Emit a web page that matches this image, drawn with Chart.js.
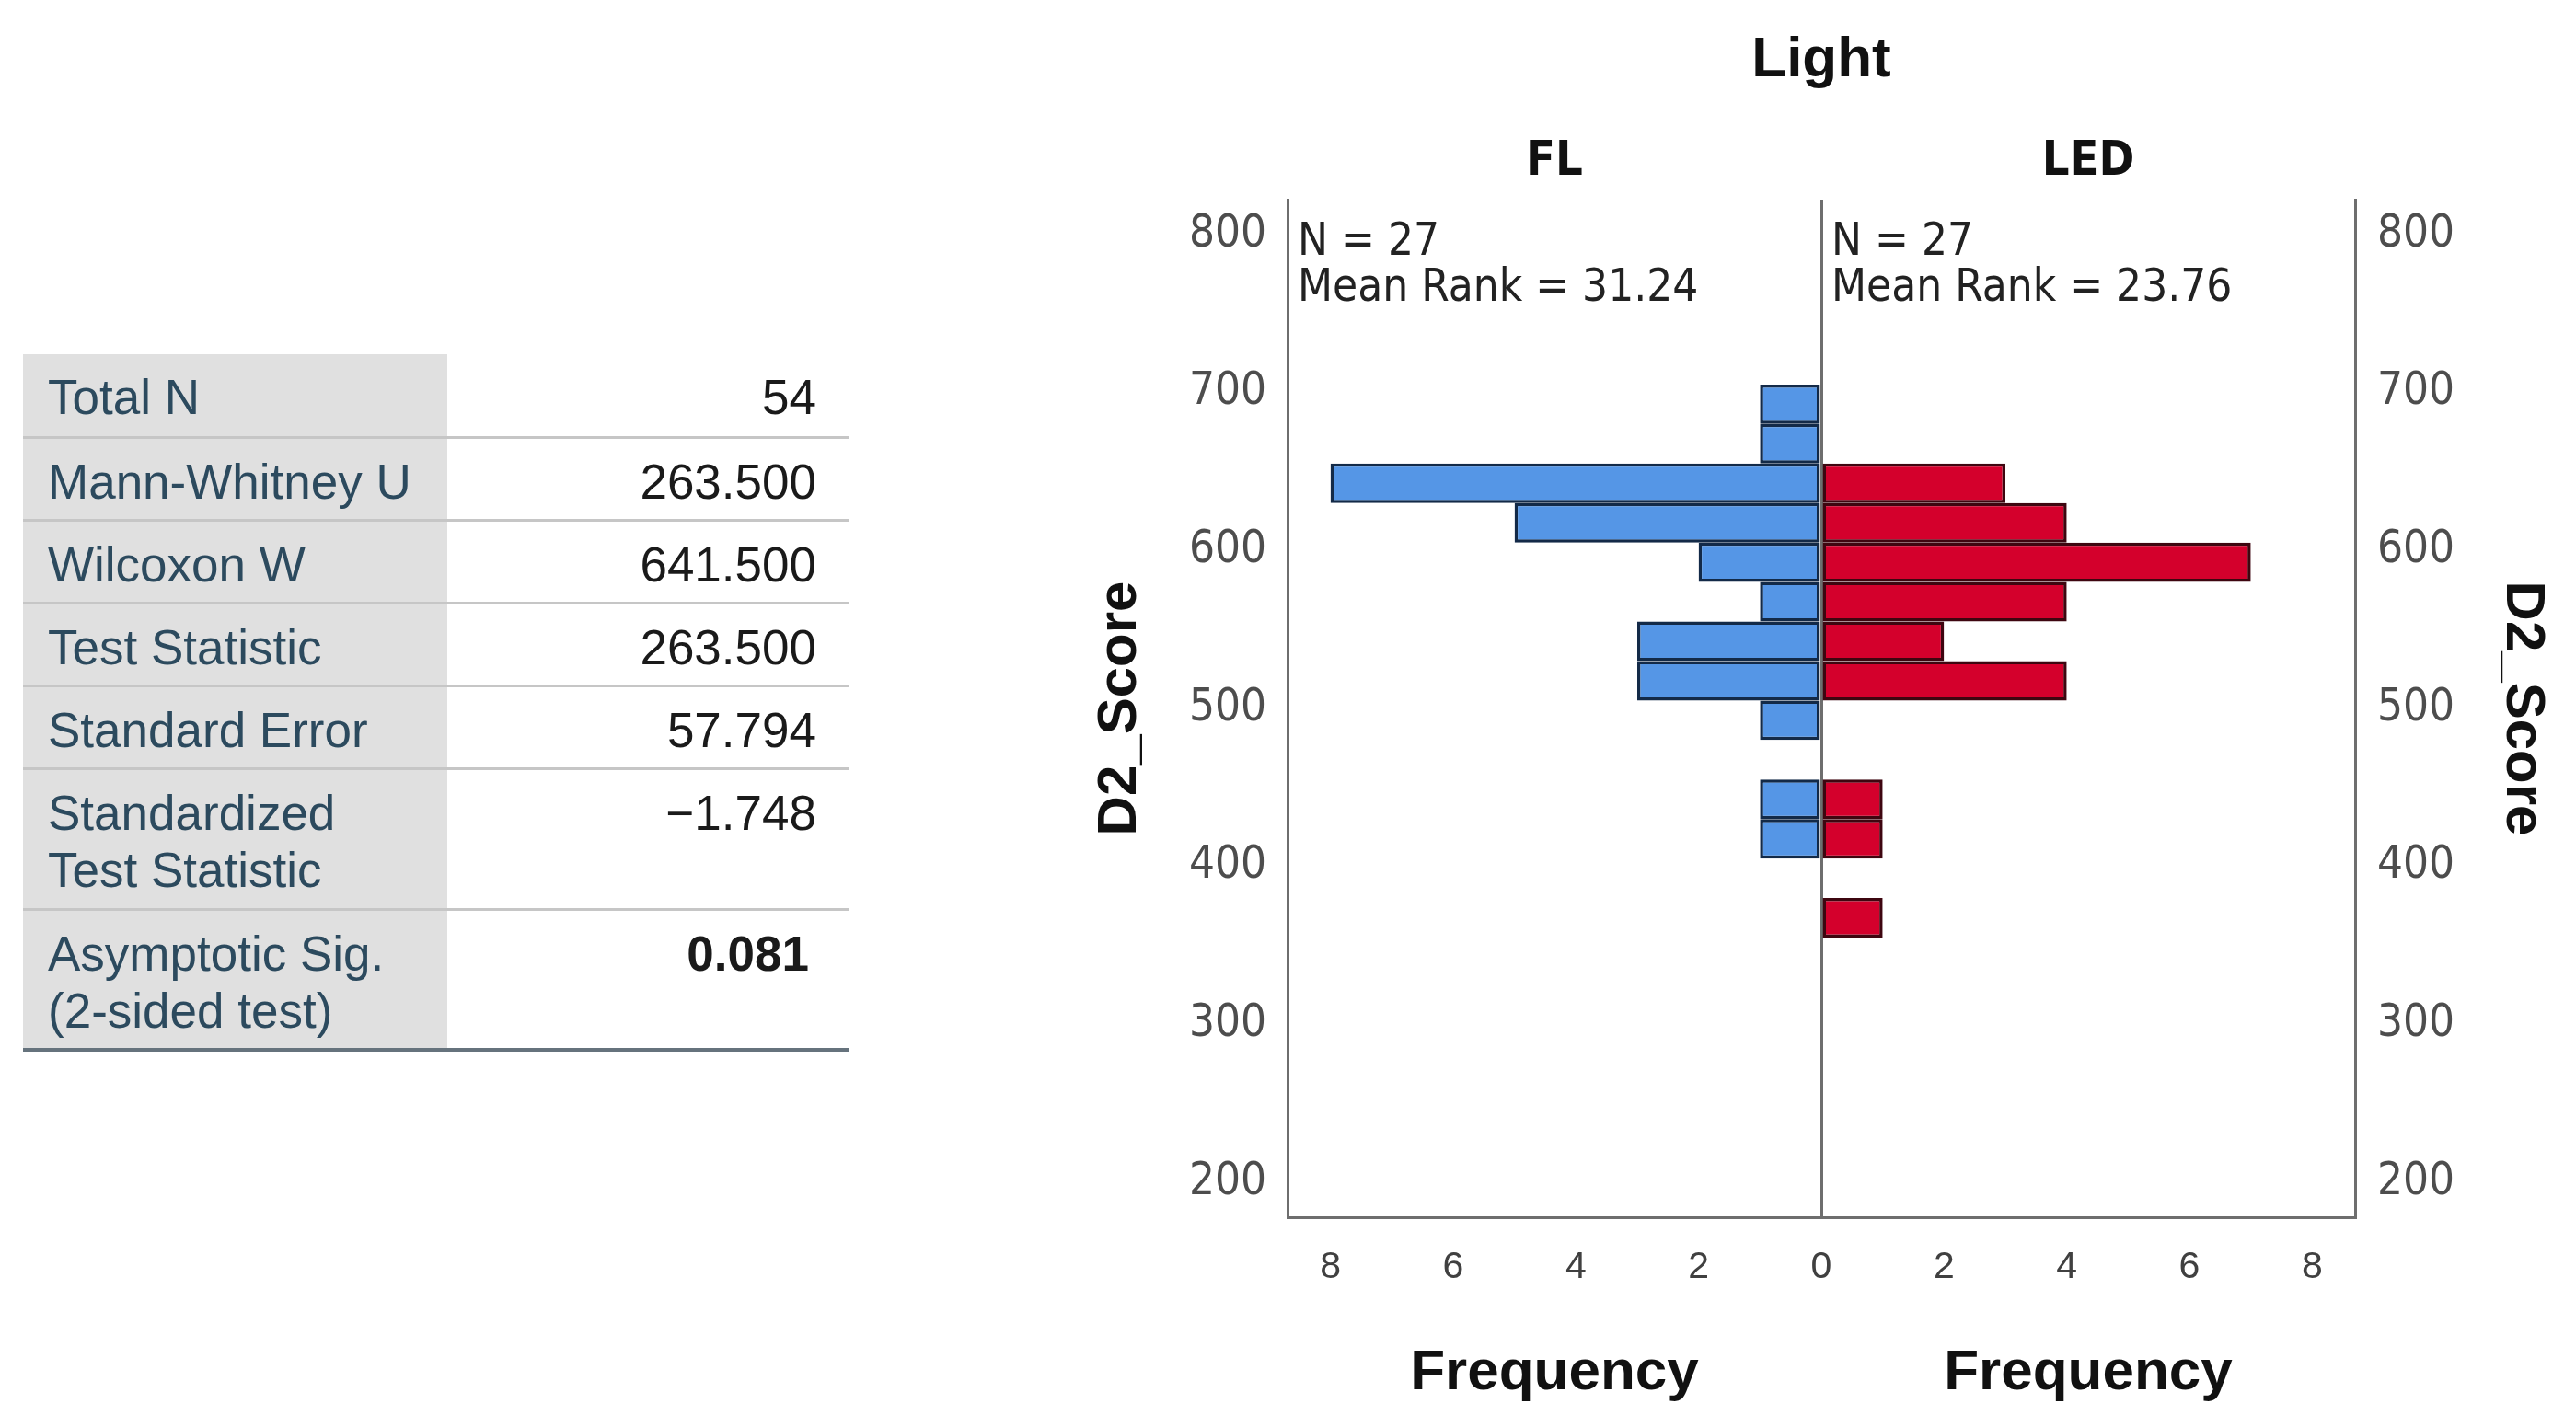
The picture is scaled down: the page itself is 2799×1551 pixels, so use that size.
<!DOCTYPE html>
<html>
<head>
<meta charset="utf-8">
<script src="https://cdn.jsdelivr.net/npm/chart.js@4.4.1/dist/chart.umd.min.js"></script>
<style>
html, body { margin: 0; padding: 0; background: #fff; width: 2799px; height: 1551px; overflow: hidden; }
#stats { position: absolute; left: 25px; top: 385px; width: 898px; border-collapse: collapse;
  font-family: 'Liberation Sans', Arial, sans-serif; font-size: 53px; line-height: 62px; }
#stats td { padding: 16px 0 0 0; vertical-align: top; border-bottom: 3px solid #c6c6c6; white-space: pre; }
#stats td.lab { background: #e0e0e0; color: #2c4a5e; padding-left: 27px; width: 434px; }
#stats td.val { text-align: right; color: #1a1a1a; padding-right: 36px; }
#stats tr.one { height: 90px; }
#stats tr.two { height: 153px; }
#stats tr:last-child td { border-bottom: 4px solid #66737d; }
#stats td.bold { font-weight: bold; padding-right: 44px; }
#chartBox { position: absolute; left: 1159px; top: 0; width: 1640px; height: 1551px; }
</style>
</head>
<body>
<table id="stats"></table>
<div id="chartBox"><canvas id="histo" width="1640" height="1551"></canvas></div>
<script>
// histogram bins of D2_Score (width 25), counts per group
const binCenters = [367.5, 392.5, 417.5, 442.5, 467.5, 492.5, 517.5, 542.5, 567.5, 592.5, 617.5, 642.5, 667.5, 692.5];
const flCounts   = [0, 0, 1, 1, 0, 1, 3, 3, 1, 2, 5, 8, 1, 1];
const ledCounts  = [1, 0, 1, 1, 0, 0, 4, 2, 4, 7, 4, 3, 0, 0];

const groupNames = ['FL', 'LED'];
const groupN = [27, 27];
const meanRanks = ['31.24', '23.76'];

const scoreTicks = [200, 300, 400, 500, 600, 700, 800];
const freqTicks = [-8, -6, -4, -2, 0, 2, 4, 6, 8];

const statLabels = ['Total N', 'Mann-Whitney U', 'Wilcoxon W', 'Test Statistic', 'Standard Error',
  'Standardized\nTest Statistic', 'Asymptotic Sig.\n(2-sided test)'];
const statValues = ['54', '263.500', '641.500', '263.500', '57.794', '\u22121.748', '0.081'];

// stats table
const table = document.getElementById('stats');
statLabels.forEach((lab, i) => {
    const tr = document.createElement('tr');
    tr.className = lab.includes('\n') ? 'two' : 'one';
    const td1 = document.createElement('td');
    td1.className = 'lab';
    td1.textContent = lab;
    const td2 = document.createElement('td');
    td2.className = i === statValues.length - 1 ? 'val bold' : 'val';
    td2.textContent = statValues[i];
    tr.appendChild(td1);
    tr.appendChild(td2);
    table.appendChild(tr);
});

const narrow = '"Liberation Sans Narrow", "Arial Narrow", "DejaVu Sans Condensed", sans-serif';
const frameColor = '#6e6e6e';

// headers, N / mean rank notes and the two Frequency titles
const panelText = {
    id: 'panelText',
    afterDraw(chart) {
        const ctx = chart.ctx;
        const a = chart.chartArea;
        const mid = chart.scales.x.getPixelForValue(0);
        const centers = [(a.left + mid) / 2, (mid + a.right) / 2];
        const lefts = [a.left, mid];
        ctx.save();
        ctx.fillStyle = '#111';
        ctx.textBaseline = 'alphabetic';
        ctx.textAlign = 'center';
        ctx.font = 'bold 62px "Liberation Sans", sans-serif';
        ctx.fillText('Light', mid, 83);
        groupNames.forEach((g, i) => {
            ctx.textAlign = 'center';
            ctx.font = 'bold 52px ' + narrow;
            ctx.fillText(g, centers[i], 190);
            ctx.font = 'bold 62px "Liberation Sans", sans-serif';
            ctx.fillText('Frequency', centers[i], 1510);
            ctx.textAlign = 'left';
            ctx.fillStyle = '#222';
            ctx.font = '49px ' + narrow;
            ctx.fillText('N = ' + groupN[i], lefts[i] + 11, 277);
            ctx.fillText('Mean Rank = ' + meanRanks[i], lefts[i] + 11, 327);
            ctx.fillStyle = '#111';
        });
        ctx.restore();
    }
};

const scoreAxis = (pos, titlePad, tickPad) => ({
    type: 'linear',
    position: pos,
    min: 178,
    max: 822,
    offset: false,
    afterBuildTicks: s => { s.ticks = scoreTicks.map(v => ({ value: v })); },
    afterFit: s => { s.width = 240; },
    grid: { display: false, offset: false },
    border: { display: true, color: frameColor, width: 3 },
    ticks: { font: { family: narrow, size: 49 }, color: '#4d4d4d', padding: tickPad },
    title: {
        display: true,
        text: 'D2_Score',
        color: '#111',
        font: { family: '"Liberation Sans", sans-serif', weight: 'bold', size: 60 },
        padding: { top: titlePad, bottom: 0 }
    }
});

new Chart(document.getElementById('histo'), {
    type: 'bar',
    data: {
        datasets: [{
            label: groupNames[0],
            data: binCenters.map((c, i) => ({ y: c, x: flCounts[i] ? -flCounts[i] : null })),
            backgroundColor: '#5596e6',
            borderColor: '#132a48'
        }, {
            label: groupNames[1],
            data: binCenters.map((c, i) => ({ y: c, x: ledCounts[i] ? ledCounts[i] : null })),
            backgroundColor: '#d4002c',
            borderColor: '#3e0610'
        }]
    },
    options: {
        indexAxis: 'y',
        responsive: false,
        devicePixelRatio: 1,
        animation: false,
        layout: { padding: { top: 217, left: 0, right: 0, bottom: 0 } },
        datasets: {
            bar: {
                grouped: false,
                barPercentage: 1,
                categoryPercentage: 1,
                borderWidth: 3.5,
                borderSkipped: false,
                inflateAmount: 0
            }
        },
        scales: {
            x: {
                type: 'linear',
                min: -8.7,
                max: 8.7,
                afterBuildTicks: s => { s.ticks = freqTicks.map(v => ({ value: v })); },
                afterFit: s => { s.height = 228; },
                grid: {
                    drawTicks: false,
                    lineWidth: 3,
                    color: c => (c.tick && c.tick.value === 0) ? frameColor : 'rgba(0,0,0,0)'
                },
                border: { display: true, color: frameColor, width: 3 },
                ticks: {
                    font: { family: '"Liberation Sans", sans-serif', size: 41 },
                    color: '#404040',
                    padding: 30,
                    callback: v => Math.abs(v)
                }
            },
            y: scoreAxis('left', 22, 15),
            y2: scoreAxis('right', 22, 16)
        },
        plugins: {
            legend: { display: false },
            tooltip: { enabled: false }
        }
    },
    plugins: [panelText]
});
</script>
</body>
</html>
